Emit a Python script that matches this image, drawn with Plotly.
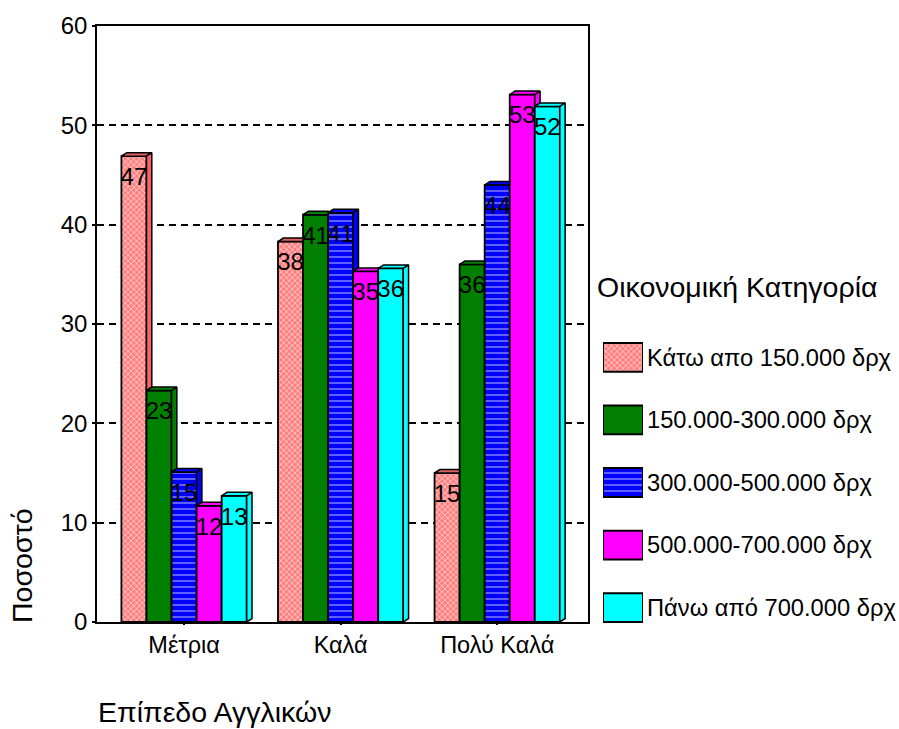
import plotly.graph_objects as go

W, H = 899, 729
categories = ["Μέτρια", "Καλά", "Πολύ Καλά"]
series_names = ["Κάτω απο 150.000 δρχ", "150.000-300.000 δρχ", "300.000-500.000 δρχ",
                "500.000-700.000 δρχ", "Πάνω από 700.000 δρχ"]
below_150 = [46.9, 38.3, 15.0]
from_150 = [23.3, 41.0, 36.0]
from_300 = [15.1, 41.2, 44.0]
from_500 = [11.7, 35.3, 53.1]
above_700 = [12.7, 35.6, 51.9]
series_values = [below_150, from_150, from_300, from_500, above_700]
labels = [[47, 38, 15], [23, 41, 36], [15, 41, 44], [12, 35, 53], [13, 36, 52]]
colors = ["#ff7f7f", "#007f00", "#0000ff", "#ff00ff", "#00ffff"]
side_colors = ["#ff6060", "#007f00", "#0000ff", "#ff00ff", "#00ffff"]
top_colors = ["#e06060", "#007f00", "#0000ff", "#ff00ff", "#00ffff"]
shapes_pat = ["x", "", "-", "", ""]
fg = ["#ffc8c8", "#007f00", "#a0a0ff", "#ff00ff", "#00ffff"]
sizes = [4, 4, 6, 4, 4]
solid = [0.4, 0.1, 0.2, 0.1, 0.1]

BAR_W = 0.16
DX = 0.034    # depth of the 3D faces in x-axis units
DY = 0.35     # depth of the 3D faces in y-axis units
LABEL_DROP = 2.3
FAMILY = "Liberation Sans"


def pattern(i):
    return dict(shape=shapes_pat[i], fgcolor=fg[i], bgcolor=colors[i],
                size=sizes[i], solidity=solid[i], fillmode="replace")


fig = go.Figure()
for i, (name, vals) in enumerate(zip(series_names, series_values)):
    fig.add_trace(go.Bar(
        x=[0, 1, 2], y=vals, name=name, showlegend=False,
        marker=dict(color=colors[i], line=dict(color="black", width=1.8), pattern=pattern(i)),
    ))

# depth faces derived from the values
for i, vals in enumerate(series_values):
    off = (i - 2) * BAR_W
    for c, v in enumerate(vals):
        xl = c + off - BAR_W / 2
        xr = c + off + BAR_W / 2
        nxt = series_values[i + 1][c] if i < 4 else 0
        tr = xr if nxt >= v else xr + DX
        fig.add_trace(go.Scatter(
            x=[xl, xl + DX, tr, xr, xl], y=[v, v + DY, v + DY, v, v],
            mode="lines", fill="toself", fillcolor=top_colors[i],
            line=dict(color="black", width=1.5), showlegend=False, hoverinfo="skip"))
        if nxt < v:
            fig.add_trace(go.Scatter(
                x=[xr, xr + DX, xr + DX, xr, xr], y=[nxt, nxt + DY, v + DY, v, nxt],
                mode="lines", fill="toself", fillcolor=side_colors[i],
                line=dict(color="black", width=1.5), showlegend=False, hoverinfo="skip"))

# value labels
for i, vals in enumerate(series_values):
    fig.add_trace(go.Scatter(
        x=[c + (i - 2) * BAR_W for c in range(3)],
        y=[v - LABEL_DROP for v in vals],
        text=[str(t) for t in labels[i]], mode="text",
        textfont=dict(size=24, color="black", family=FAMILY),
        showlegend=False, hoverinfo="skip"))

# legend swatches drawn as a small bar chart with the names as tick labels
for i, name in enumerate(series_names):
    fig.add_trace(go.Bar(
        x=[1], y=[name], orientation="h", width=0.46, offsetgroup="swatch",
        xaxis="x2", yaxis="y2", showlegend=False, hoverinfo="skip",
        marker=dict(color=colors[i], line=dict(color="black", width=2), pattern=pattern(i)),
    ))

font = dict(family=FAMILY, color="black")
fig.update_layout(
    width=W, height=H, margin=dict(l=0, r=0, t=0, b=0, pad=0), autosize=False,
    paper_bgcolor="white", plot_bgcolor="white", barmode="group", bargap=0.2, bargroupgap=0,
    font=font, showlegend=False,
    xaxis=dict(domain=[97 / W, 588 / W], range=[-0.556, 2.58], tickvals=[0, 1, 2], automargin=False,
               ticktext=categories, showgrid=False, zeroline=False, showline=True, mirror=True,
               linecolor="black", linewidth=1.5, ticks="outside", ticklen=1, tickwidth=2,
               tickcolor="black", tickfont=dict(size=23.5, **font)),
    yaxis=dict(domain=[1 - 622 / H, 1 - 26 / H], range=[0, 60], tickvals=[0, 10, 20, 30, 40, 50, 60],
               automargin=False, showgrid=True, gridcolor="black", griddash="7px,5px", gridwidth=1.5,
               zeroline=False, showline=True, mirror=True, linecolor="black", linewidth=1.5,
               ticks="outside", ticklen=3, tickwidth=2, tickcolor="black",
               tickfont=dict(size=24, **font)),
    xaxis2=dict(domain=[603 / W, 643 / W], range=[0, 1], visible=False, anchor="y2", automargin=False),
    yaxis2=dict(domain=[1 - 639 / H, 1 - 326 / H], anchor="x2", side="right", autorange="reversed",
                type="category", categoryorder="array", categoryarray=series_names, automargin=False,
                showgrid=False, zeroline=False, showline=False, ticks="", ticklabelstandoff=3,
                tickfont=dict(size=23.7, **font)),
    annotations=[
        dict(text="Οικονομική Κατηγορία", x=595 / W, y=1 - 287 / H, xref="paper", yref="paper",
             xanchor="left", yanchor="middle", showarrow=False, font=dict(size=28.5, **font)),
        dict(text="Ποσοστό", x=22 / W, y=1 - 566 / H, xref="paper", yref="paper", textangle=-90,
             xanchor="center", yanchor="middle", showarrow=False, font=dict(size=28.5, **font)),
        dict(text="Επίπεδο Αγγλικών", x=96 / W, y=1 - 712 / H, xref="paper", yref="paper",
             xanchor="left", yanchor="middle", showarrow=False, font=dict(size=28.5, **font)),
    ],
)
fig.write_html("out.html", config={"displayModeBar": False},
               post_script="document.body.style.margin='0';")
